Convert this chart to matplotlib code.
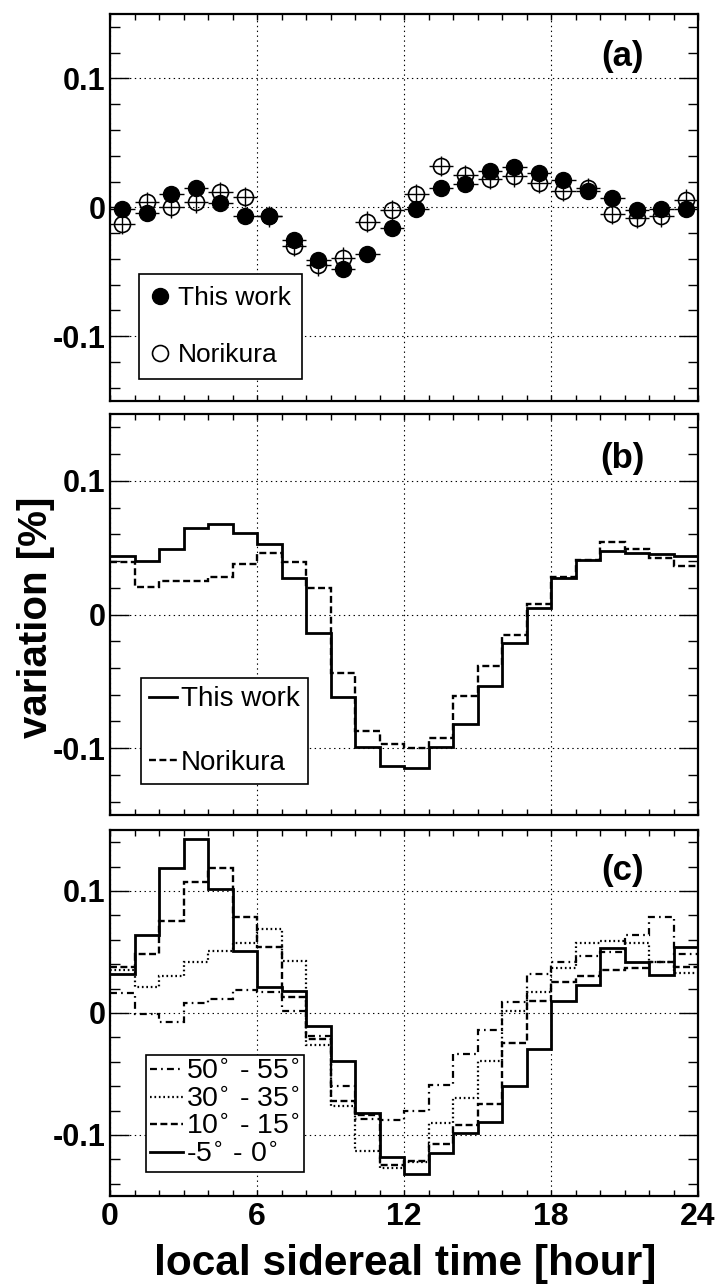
import numpy as np
import matplotlib
matplotlib.use("Agg")
from matplotlib import pyplot as plt
from matplotlib.lines import Line2D

plt.rcParams['font.family'] = ['Liberation Sans', 'DejaVu Sans']
plt.rcParams['lines.scale_dashes'] = False

# ---- data ----
hour_edges = list(range(25))
hour_centers = [h + 0.5 for h in range(24)]

# panel (a): sidereal daily variation, points
this_work_a = [-0.001, -0.004, 0.010, 0.015, 0.003, -0.007, -0.007, -0.025,
               -0.041, -0.048, -0.036, -0.016, -0.001, 0.015, 0.018, 0.028,
               0.031, 0.027, 0.021, 0.013, 0.007, -0.002, -0.001, -0.001]
norikura_a = [-0.013, 0.004, 0.000, 0.004, 0.012, 0.008, -0.007, -0.030,
              -0.045, -0.039, -0.011, -0.002, 0.010, 0.032, 0.025, 0.022,
              0.024, 0.019, 0.013, 0.015, -0.005, -0.008, -0.007, 0.006]
err_this_work_a = 0.004
err_norikura_a = 0.008

# panel (b): histograms
this_work_b = [0.044, 0.040, 0.049, 0.065, 0.068, 0.061, 0.053, 0.027,
               -0.0135, -0.062, -0.099, -0.1136, -0.1146, -0.099, -0.0816, -0.0534,
               -0.021, 0.005, 0.027, 0.0407, 0.0474, 0.0457, 0.045, 0.044]
norikura_b = [0.039, 0.0207, 0.025, 0.025, 0.0277, 0.038, 0.046, 0.039,
              0.020, -0.0437, -0.087, -0.0966, -0.0999, -0.0924, -0.061, -0.0385,
              -0.0155, 0.0077, 0.028, 0.041, 0.054, 0.049, 0.042, 0.036]

# panel (c): by declination band
dec_m5_0 = [0.032, 0.064, 0.119, 0.143, 0.102, 0.051, 0.021, 0.018,
            -0.011, -0.039, -0.082, -0.118, -0.132, -0.115, -0.098, -0.0895,
            -0.060, -0.0295, 0.010, 0.023, 0.053, 0.0415, 0.031, 0.054]
dec_10_15 = [0.038, 0.048, 0.075, 0.1075, 0.119, 0.079, 0.054, 0.013,
             -0.021, -0.072, -0.084, -0.125, -0.121, -0.107, -0.092, -0.075,
             -0.025, 0.010, 0.025, 0.030, 0.035, 0.037, 0.042, 0.038]
dec_30_35 = [0.035, 0.021, 0.030, 0.0415, 0.051, 0.057, 0.069, 0.043,
             -0.026, -0.076, -0.113, -0.127, -0.122, -0.090, -0.070, -0.039,
             0.002, 0.017, 0.037, 0.057, 0.059, 0.057, 0.0415, 0.033]
dec_50_55 = [0.016, -0.001, -0.007, 0.008, 0.0115, 0.019, 0.017, 0.002,
             -0.019, -0.060, -0.087, -0.088, -0.080, -0.059, -0.034, -0.014,
             0.009, 0.032, 0.0415, 0.047, 0.050, 0.064, 0.079, 0.048]
dec_labels = ["50$^{\\circ}$ - 55$^{\\circ}$", "30$^{\\circ}$ - 35$^{\\circ}$",
              "10$^{\\circ}$ - 15$^{\\circ}$", "-5$^{\\circ}$ - 0$^{\\circ}$"]

x_ticks = [0, 6, 12, 18, 24]
x_ticklabels = ["0", "6", "12", "18", "24"]
y_ticks = [-0.1, 0, 0.1]
y_ticklabels = ["-0.1", "0", "0.1"]
y_minor = [-0.14, -0.12, -0.10, -0.08, -0.06, -0.04, -0.02, 0.0,
           0.02, 0.04, 0.06, 0.08, 0.10, 0.12, 0.14]

# line styles (points)
DASH = (0, (5, 2.5))
DOT = (0, (1.2, 2))
DASHDOT = (0, (5, 3, 1.2, 3))

fig = plt.figure(figsize=(7.19, 12.84), dpi=100)
left, width = 110 / 719, 588 / 719
ax_a = fig.add_axes([left, 0.68793, width, 0.30117])
ax_b = fig.add_axes([left, 0.36526, width, 0.31231])
ax_c = fig.add_axes([left, 0.06854, width, 0.28505])


def style_axis(ax, label, show_x):
    ax.set_xlim(0, 24)
    ax.set_ylim(-0.15, 0.15)
    ax.set_xticks(x_ticks)
    ax.set_xticks(hour_edges, minor=True)
    ax.set_yticks(y_ticks)
    ax.set_yticks(y_minor, minor=True)
    ax.set_yticklabels(y_ticklabels, fontsize=22, fontweight='bold')
    if show_x:
        ax.set_xticklabels(x_ticklabels, fontsize=23, fontweight='bold')
    else:
        ax.set_xticklabels([])
    ax.tick_params(which='both', direction='in', top=True, right=True, width=1)
    ax.tick_params(axis='y', which='major', length=14, pad=3)
    ax.tick_params(axis='y', which='minor', length=7)
    ax.tick_params(axis='x', which='both', length=4, pad=4)
    ax.grid(True, which='major', color='black', linestyle=(0, (1, 2.5)), linewidth=0.8)
    for s in ax.spines.values():
        s.set_linewidth(1.6)
    ax.text(0.872, 0.89, label, transform=ax.transAxes, fontsize=25,
            fontweight='bold', ha='center', va='center')


# (a)
ax_a.errorbar(hour_centers, norikura_a, xerr=0.5, yerr=err_norikura_a, fmt='o',
              ms=11.5, mfc='none', mec='black', mew=1.2, ecolor='black',
              elinewidth=1, capsize=0, zorder=3)
ax_a.errorbar(hour_centers, this_work_a, xerr=0.5, yerr=err_this_work_a, fmt='o',
              ms=11.5, mfc='black', mec='black', ecolor='black',
              elinewidth=1, capsize=0, zorder=4)
style_axis(ax_a, '(a)', False)
h_filled = Line2D([], [], marker='o', ls='none', ms=11.5, mfc='black', mec='black')
h_open = Line2D([], [], marker='o', ls='none', ms=11.5, mfc='none', mec='black', mew=1.2)
leg = ax_a.legend([h_filled, h_open], ["This work", "Norikura"], loc='lower left',
                  bbox_to_anchor=(0.049, 0.056), borderaxespad=0, fontsize=19,
                  frameon=True, fancybox=False, edgecolor='black', framealpha=1,
                  borderpad=0.45, labelspacing=1.25, handlelength=0.72,
                  handletextpad=0.3, numpoints=1)
leg.get_frame().set_linewidth(1.2)

# (b)
ax_b.stairs(this_work_b, hour_edges, color='black', linewidth=2.0, baseline=None)
ax_b.stairs(norikura_b, hour_edges, color='black', linewidth=1.7, linestyle=DASH,
            baseline=None)
style_axis(ax_b, '(b)', False)
hb1 = Line2D([], [], color='black', lw=2.0)
hb2 = Line2D([], [], color='black', lw=1.7, ls=DASH)
leg = ax_b.legend([hb1, hb2], ["This work", "Norikura"], loc='lower left',
                  bbox_to_anchor=(0.052, 0.077), borderaxespad=0, fontsize=20,
                  frameon=True, fancybox=False, edgecolor='black', framealpha=1,
                  borderpad=0.3, labelspacing=1.35, handlelength=1.0,
                  handletextpad=0.15)
leg.get_frame().set_linewidth(1.2)

# (c)
ax_c.stairs(dec_50_55, hour_edges, color='black', linewidth=1.6, linestyle=DASHDOT,
            baseline=None)
ax_c.stairs(dec_30_35, hour_edges, color='black', linewidth=1.6, linestyle=DOT,
            baseline=None)
ax_c.stairs(dec_10_15, hour_edges, color='black', linewidth=1.7, linestyle=DASH,
            baseline=None)
ax_c.stairs(dec_m5_0, hour_edges, color='black', linewidth=2.0, baseline=None)
style_axis(ax_c, '(c)', True)
hc = [Line2D([], [], color='black', lw=1.6, ls=DASHDOT),
      Line2D([], [], color='black', lw=1.6, ls=DOT),
      Line2D([], [], color='black', lw=1.7, ls=DASH),
      Line2D([], [], color='black', lw=2.0)]
leg = ax_c.legend(hc, dec_labels, loc='lower left',
                  bbox_to_anchor=(0.061, 0.066), borderaxespad=0, fontsize=20.5,
                  frameon=True, fancybox=False, edgecolor='black', framealpha=1,
                  borderpad=0.15, labelspacing=0.05, handlelength=1.15,
                  handletextpad=0.1)
leg.get_frame().set_linewidth(1.2)

fig.text(36 / 719, 1 - 617 / 1284, "variation [%]", rotation=90, fontsize=29,
         fontweight='bold', ha='center', va='center')
fig.text(405 / 719, 1 - 1264 / 1284, "local sidereal time [hour]", fontsize=30.5,
         fontweight='bold', ha='center', va='center')

fig.savefig("out.png", dpi=100)
